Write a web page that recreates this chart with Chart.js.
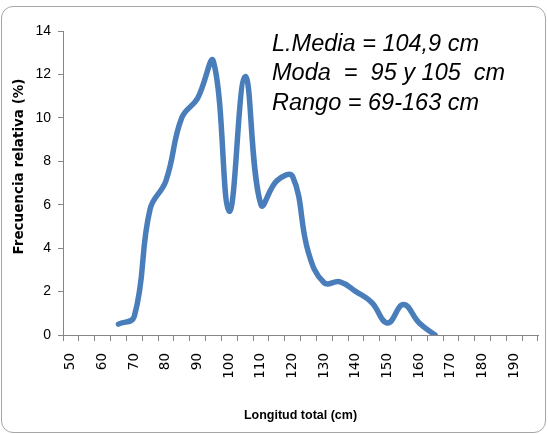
<!DOCTYPE html>
<html>
<head>
  <title>Longitud total</title>
  <script src="https://cdn.jsdelivr.net/npm/chart.js"></script>
  <style>
    body { margin: 0; background: #fff; }
    #wrap { position: relative; width: 548px; height: 434px; }
    #frame { position: absolute; left: 1px; top: 6px; width: 543px; height: 425px;
             border: 1px solid #a6a6a6; border-radius: 12px; }
    #chart { position: absolute; left: 0; top: 0; }
  </style>
</head>
<body>
  <div id="wrap">
    <div id="frame"></div>
    <canvas id="chart" width="548" height="434"></canvas>
  </div>
  <script>
    // 5 cm classes, only every other one gets a label
    const lengths = ['50', '55', '60', '65', '70', '75', '80', '85', '90', '95',
                     '100', '105', '110', '115', '120', '125', '130', '135', '140', '145',
                     '150', '155', '160', '165', '170', '175', '180', '185', '190', '195'];
    const freq = [null, null, null, 0.5, 0.85, 5.8, 7.1, 10.0, 10.9, 12.6,
                  5.7, 11.9, 6.0, 7.1, 7.3, 3.8, 2.4, 2.45, 2.0, 1.5,
                  0.55, 1.4, 0.55, 0, null, null, null, null, null, null];
    const yTicks = [0, 2, 4, 6, 8, 10, 12, 14];
    const notes = ['L.Media = 104,9 cm', 'Moda  =  95 y 105  cm', 'Rango = 69-163 cm'];

    const axisGray = '#868686';

    // statistics text box in the upper right
    const notesPlugin = {
      id: 'notes',
      afterDraw(chart) {
        const c = chart.ctx;
        c.save();
        c.font = 'italic 23.5px "Liberation Sans", Arial, sans-serif';
        c.fillStyle = '#000';
        c.textBaseline = 'middle';
        notes.forEach((t, i) => c.fillText(t, 272, 44 + i * 29.5));
        c.restore();
      }
    };

    const ctx = document.getElementById('chart').getContext('2d');
    new Chart(ctx, {
      type: 'line',
      data: {
        labels: lengths,
        datasets: [{
          label: 'Frecuencia relativa',
          data: freq,
          borderColor: '#4a7ebb',
          borderWidth: 5.5,
          borderCapStyle: 'round',
          borderJoinStyle: 'round',
          tension: 0.42,
          pointRadius: 0,
          fill: false
        }]
      },
      options: {
        responsive: false,
        animation: false,
        layout: { padding: { top: 31, right: 10, bottom: 0, left: 0 } },
        plugins: { legend: { display: false }, tooltip: { enabled: false } },
        scales: {
          x: {
            type: 'category',
            offset: true,
            afterFit: s => { s.height = 99; s.paddingLeft = 0; s.paddingRight = 0; },
            border: { color: axisGray, width: 1 },
            grid: { offset: true, drawOnChartArea: false, drawTicks: true, tickLength: 6, color: axisGray },
            ticks: {
              autoSkip: false,
              minRotation: 90,
              maxRotation: 90,
              padding: 12,
              color: '#000',
              font: { family: '"DejaVu Sans"', size: 13.5 },
              callback: (v, i) => (i % 2 === 0 ? lengths[i] : '')
            },
            title: {
              display: true,
              text: 'Longitud total (cm)',
              color: '#000',
              font: { family: '"Liberation Sans Narrow", "Liberation Sans"', size: 12.5, weight: 'bold' },
              padding: { top: 0, bottom: 11 }
            }
          },
          y: {
            min: 0,
            max: 14,
            afterFit: s => { s.width = 63; },
            afterBuildTicks: s => { s.ticks = yTicks.map(v => ({ value: v })); },
            border: { color: axisGray, width: 1 },
            grid: { drawOnChartArea: false, drawTicks: true, tickLength: 5, color: axisGray },
            ticks: {
              padding: 7,
              color: '#000',
              font: { family: '"Liberation Sans Narrow", "Liberation Sans"', size: 14 }
            },
            title: {
              display: true,
              // leading spaces nudge the centred title up like the original
              text: '       Frecuencia relativa (%)',
              color: '#000',
              font: { family: '"DejaVu Sans"', size: 13.5, weight: 'bold' },
              padding: { top: 11, bottom: 0 }
            }
          }
        }
      },
      plugins: [notesPlugin]
    });
  </script>
</body>
</html>
